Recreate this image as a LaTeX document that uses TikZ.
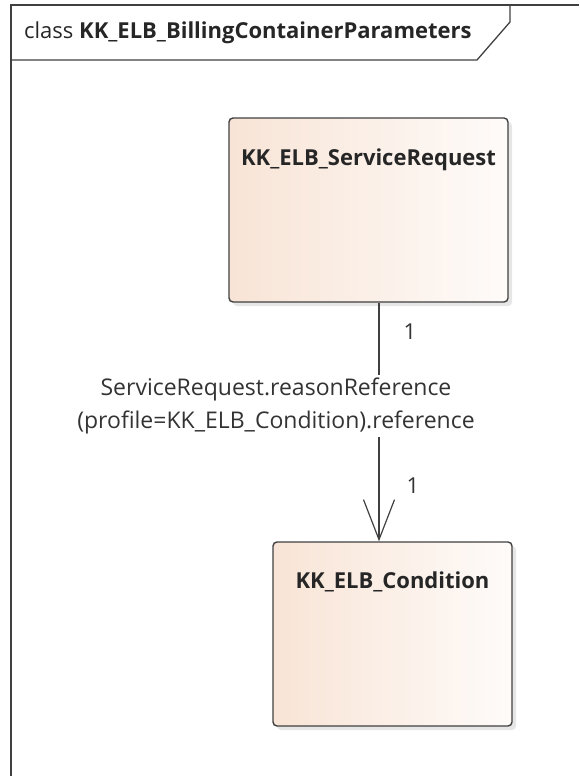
\documentclass[tikz,border=0pt]{standalone}
\usepackage{fontspec}
\setmainfont{Open Sans}
\usepackage{xcolor}
\usetikzlibrary{arrows.meta,shadows,positioning}
\definecolor{boxleft}{RGB}{248,228,214}
\definecolor{boxright}{RGB}{254,251,249}
\definecolor{edgegray}{RGB}{64,64,64}
\begin{document}
\begin{tikzpicture}[x=1pt, y=-1pt,
    classbox/.style={draw=edgegray, line width=1.4pt, rounded corners=4pt,
        left color=boxleft, right color=boxright, minimum width=#1, minimum height=184pt,
        drop shadow={shadow xshift=4pt, shadow yshift=-4pt, opacity=0.2, fill=gray}},
    classtitle/.style={font=\fontsize{22}{26}\selectfont\bfseries, text=black!85, inner sep=0pt},
    multlabel/.style={font=\fontsize{22}{26}\selectfont, text=black!80, inner sep=0pt},
    assoc/.style={draw=edgegray, line width=1.2pt, -{Straight Barb[length=40pt, width=31pt]}}]
        \useasboundingbox (0,0) rectangle (579,776);
        % Frame
        \draw[edgegray, line width=1.3pt] (11,776) -- (11,5) -- (579,5);
        \draw[edgegray, line width=1.3pt] (11,60) -- (477,60) -- (510,22) -- (510,5);
        \node[anchor=west, inner sep=0pt, text=black!85, font=\fontsize{22}{26}\selectfont]
            (frametitle) at (24,33) {class \textbf{KK\_ELB\_BillingContainerParameters}};
        
        % ServiceRequest
        \node[classbox=279pt] (request) at (368.5,210) {};
        \node[classtitle] (requesttitle) at ([yshift=-42pt]request.north) {KK\_ELB\_ServiceRequest};
        
        % Condition
        \node[classbox=239pt] (condition) at (392.5,634) {};
        \node[classtitle] (conditiontitle) at ([yshift=-41pt]condition.north) {KK\_ELB\_Condition};
        
        % Association
        \coordinate (linex) at (379,0);
        \draw[assoc] (request.south -| linex) -- (condition.north -| linex);
        \node[multlabel] (srcmult) at (410,332) {1};
        \node[multlabel] (dstmult) at (413,486) {1};
        \node[multlabel, fill=white, inner sep=3pt, align=center,
            font=\fontsize{23}{33}\selectfont] (rolelabel) at (276,406)
            {ServiceRequest.reasonReference\\(profile=KK\_ELB\_Condition).reference};
    \end{tikzpicture}
\end{document}
